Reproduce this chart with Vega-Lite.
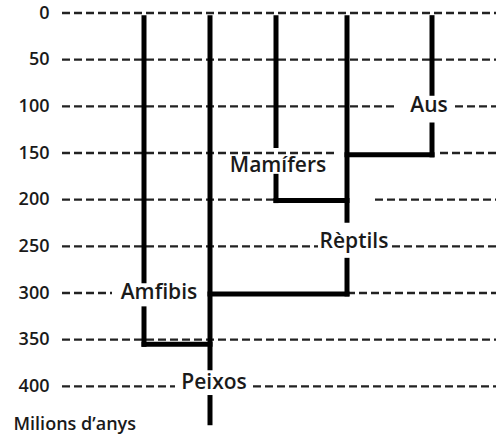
{
  "$schema": "https://vega.github.io/schema/vega-lite/v6.json",
  "width": 436,
  "height": 420,
  "autosize": "none",
  "padding": {"left": 60, "top": 13, "right": 0, "bottom": 3},
  "background": "white",
  "config": {"view": {"stroke": null}},
  "datasets": {
    "grid": [
      {"v": 0, "a": 2, "b": 436},
      {"v": 50, "a": 2, "b": 436},
      {"v": 100, "a": 2, "b": 338},
      {"v": 100, "a": 395, "b": 436},
      {"v": 150, "a": 2, "b": 277},
      {"v": 150, "a": 380, "b": 436},
      {"v": 200, "a": 2, "b": 216},
      {"v": 200, "a": 315, "b": 436},
      {"v": 250, "a": 2, "b": 258},
      {"v": 250, "a": 332, "b": 436},
      {"v": 300, "a": 2, "b": 52},
      {"v": 300, "a": 287, "b": 436},
      {"v": 350, "a": 2, "b": 436},
      {"v": 400, "a": 2, "b": 115},
      {"v": 400, "a": 193, "b": 436}
    ],
    "branches": [
      {"x": 84, "x2": 84, "y": 5, "y2": 287},
      {"x": 84, "x2": 84, "y": 317, "y2": 355},
      {"x": 84, "x2": 150, "y": 355, "y2": 355},
      {"x": 150, "x2": 150, "y": 5, "y2": 380},
      {"x": 150, "x2": 150, "y": 412, "y2": 439},
      {"x": 216, "x2": 216, "y": 5, "y2": 142},
      {"x": 216, "x2": 216, "y": 175, "y2": 201},
      {"x": 216, "x2": 287, "y": 201, "y2": 201},
      {"x": 287, "x2": 287, "y": 5, "y2": 222},
      {"x": 287, "x2": 287, "y": 265, "y2": 301},
      {"x": 150, "x2": 287, "y": 301, "y2": 301},
      {"x": 372, "x2": 372, "y": 5, "y2": 86},
      {"x": 372, "x2": 372, "y": 120, "y2": 152},
      {"x": 287, "x2": 372, "y": 152, "y2": 152}
    ],
    "labels": [
      {"label": "Aus", "x": 369, "y": 100},
      {"label": "Mamífers", "x": 218, "y": 164},
      {"label": "Rèptils", "x": 294, "y": 245},
      {"label": "Amfibis", "x": 99, "y": 300},
      {"label": "Peixos", "x": 154, "y": 396}
    ]
  },
  "resolve": {"scale": {"x": "shared", "y": "shared"}},
  "layer": [
    {
      "data": {"name": "grid"},
      "mark": {"type": "rule", "strokeDash": [8, 4], "strokeWidth": 2.3, "color": "#222222"},
      "encoding": {
        "y": {
          "field": "v", "type": "quantitative",
          "scale": {"domain": [0, 450], "reverse": true, "nice": false, "zero": false},
          "axis": {
            "values": [0, 50, 100, 150, 200, 250, 300, 350, 400],
            "grid": false, "domain": false, "ticks": false,
            "labelPadding": 11,
            "labelFont": "Open Sans", "labelFontWeight": 600, "labelFontSize": 18,
            "labelColor": "#1a1a1a",
            "title": "Milions d’anys",
            "titleAngle": 0, "titleAlign": "left", "titleBaseline": "middle",
            "titleX": -47, "titleY": 411,
            "titleFont": "Open Sans", "titleFontWeight": 600, "titleFontSize": 18,
            "titleColor": "#1a1a1a"
          }
        },
        "x": {"field": "a", "type": "quantitative", "scale": {"domain": [0, 436], "nice": false, "zero": false}, "axis": null},
        "x2": {"field": "b"}
      }
    },
    {
      "data": {"name": "branches"},
      "mark": {"type": "rule", "strokeWidth": 5, "color": "#000000", "strokeCap": "square"},
      "encoding": {
        "x": {"field": "x", "type": "quantitative"},
        "x2": {"field": "x2"},
        "y": {"field": "y", "type": "quantitative"},
        "y2": {"field": "y2"}
      }
    },
    {
      "data": {"name": "labels"},
      "mark": {"type": "text", "font": "Open Sans", "fontWeight": 600, "fontSize": 21, "color": "#1a1a1a", "align": "center", "baseline": "middle"},
      "encoding": {
        "x": {"field": "x", "type": "quantitative"},
        "y": {"field": "y", "type": "quantitative"},
        "text": {"field": "label"}
      }
    }
  ]
}
